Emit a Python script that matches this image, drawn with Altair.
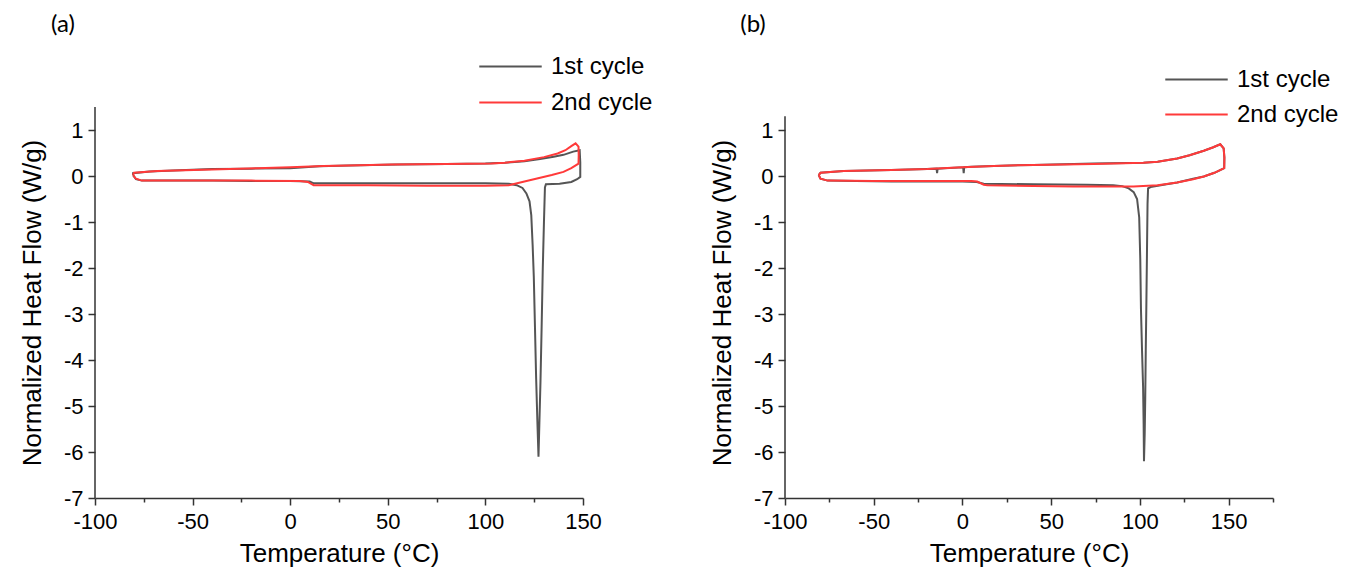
import altair as alt
import pandas as pd

# ---------------- data ----------------
series = ["1st cycle", "2nd cycle"]
series_colors = ["#555555", "#ff3a3a"]

# panel (a) 1st cycle
a1_T = [-80.5, -79, -76, -60, -40, -20, 0, 10, 12, 40, 70, 100, 112, 116, 119, 121, 122.6, 123.5,
        124.2, 124.8, 125.4, 126, 126.6, 127.2, 127.7, 128.2, 128.8, 129.4, 130, 130.5, 131, 138,
        144, 147, 148.6, 148.6, 148.3, 145, 140, 135, 128, 120, 110, 100, 80, 55, 30, 15, 0, -20,
        -40, -60, -72, -80.5, -80.5]
a1_Q = [0.02, -0.07, -0.1, -0.1, -0.1, -0.11, -0.11, -0.12, -0.16, -0.16, -0.16, -0.16, -0.17,
        -0.2, -0.26, -0.38, -0.55, -0.85, -1.5, -2.2, -3.3, -4.4, -5.3, -6.1, -5.3, -4.5, -3.3,
        -2.0, -1.0, -0.25, -0.18, -0.17, -0.13, -0.07, -0.02, 0.3, 0.56, 0.53, 0.46, 0.42, 0.37,
        0.32, 0.29, 0.27, 0.26, 0.25, 0.23, 0.21, 0.17, 0.16, 0.15, 0.12, 0.1, 0.06, 0.02]

# panel (a) 2nd cycle
a2_T = [-80.5, -79, -76, -50, -20, 5, 9, 12, 40, 70, 100, 112, 120, 127, 134, 140, 144, 147.7,
        147.8, 147.7, 146.2, 144, 141, 137, 130, 120, 110, 103, 80, 52, 30, 17, 0, -17, -40, -68,
        -80, -80.5]
a2_Q = [0.02, -0.06, -0.1, -0.1, -0.1, -0.11, -0.13, -0.2, -0.2, -0.21, -0.21, -0.2, -0.12,
        -0.05, 0.02, 0.09, 0.17, 0.27, 0.45, 0.64, 0.71, 0.65, 0.56, 0.49, 0.41, 0.33, 0.29, 0.27,
        0.26, 0.25, 0.23, 0.22, 0.19, 0.17, 0.14, 0.11, 0.07, 0.02]

# panel (b) 1st cycle
b1_T = [-81, -80, -76, -60, -40, -20, 0, 8, 12, 40, 70, 85, 90, 93.7, 96.5, 98.4, 99.6, 100.2,
        100.6, 101.2, 101.8, 102.1, 102.3, 102.7, 103, 103.3, 103.6, 104, 104.3, 104.6, 106, 115,
        121, 130, 136, 142, 147.5, 147.6, 147.2, 145.3, 141, 136, 128, 121, 110, 102, 74, 40,
        17.6, 5, 1, 0.7, 0.4, -10, -14, -14.3, -14.6, -20, -40, -67, -80, -81]
b1_Q = [0.02, -0.06, -0.1, -0.11, -0.12, -0.12, -0.12, -0.13, -0.17, -0.18, -0.19, -0.2, -0.22,
        -0.27, -0.35, -0.5, -0.9, -1.8, -2.9, -3.8, -4.6, -5.4, -6.2, -5.6, -4.85, -3.8, -2.9,
        -1.6, -0.6, -0.27, -0.24, -0.18, -0.14, -0.06, -0.01, 0.07, 0.17, 0.4, 0.6, 0.69, 0.62,
        0.55, 0.45, 0.38, 0.31, 0.29, 0.27, 0.24, 0.22, 0.2, 0.19, 0.06, 0.19, 0.17, 0.16, 0.06,
        0.16, 0.15, 0.13, 0.11, 0.07, 0.02]

# panel (b) 2nd cycle
b2_T = [-81, -80, -76, -50, -20, 5, 8.3, 12, 14, 40, 62.7, 80, 96.4, 110, 121, 130, 136, 142,
        147.5, 147.6, 147.2, 145.3, 141, 136, 128, 121, 110, 102, 74, 40, 17.6, 0, -19.9, -40,
        -66.8, -80, -81]
b2_Q = [0.02, -0.06, -0.1, -0.11, -0.11, -0.11, -0.12, -0.19, -0.2, -0.22, -0.23, -0.23, -0.23,
        -0.2, -0.14, -0.07, -0.01, 0.07, 0.17, 0.4, 0.6, 0.69, 0.62, 0.55, 0.45, 0.38, 0.31, 0.29,
        0.26, 0.24, 0.22, 0.19, 0.15, 0.13, 0.11, 0.07, 0.02]

a_x_ticks = [-100, -75, -50, -25, 0, 25, 50, 75, 100, 125, 150]
b_x_ticks = [-100, -75, -50, -25, 0, 25, 50, 75, 100, 125, 150, 175]
y_ticks = [-7, -6.5, -6, -5.5, -5, -4.5, -4, -3.5, -3, -2.5, -2, -1.5, -1, -0.5, 0, 0.5, 1, 1.5]

# extent of each panel's y axis line (bottom, top)
a_y_axis = [-7, 1.5]
b_y_axis = [-7, 1.3]

AXIS_FONT = "Liberation Sans"
AXIS_COLOR = "#333333"


def frame(T, Q, name):
    return pd.DataFrame({"T": T, "Q": Q, "cycle": name, "i": list(range(len(T)))})


def panel(d1, d2, xdom, xticks, yaxis, tag, leg_x, leg_y):
    ydom = [-7, 1.5]
    yt = [v for v in y_ticks if yaxis[0] <= v <= yaxis[1]]
    xenc = alt.X("T:Q",
                 scale=alt.Scale(domain=xdom, nice=False, zero=False),
                 axis=alt.Axis(values=xticks, title="Temperature (°C)",
                               labelExpr="datum.value % 50 === 0 && datum.value <= 150 ? '' + datum.value : ''",
                               tickSize={"condition": {"test": "datum.value % 50 !== 0", "value": 4}, "value": 7},
                               labelPadding=6, titlePadding=8))
    yenc = alt.Y("Q:Q",
                 scale=alt.Scale(domain=ydom, nice=False, zero=False),
                 axis=alt.Axis(values=yt, title="Normalized Heat Flow (W/g)", domain=False,
                               labelExpr="datum.value % 1 === 0 ? '' + datum.value : ''",
                               tickSize={"condition": {"test": "datum.value % 1 !== 0", "value": 4}, "value": 7},
                               labelPadding=5, titlePadding=18))

    def line(d, k):
        return alt.Chart(d).mark_line(strokeWidth=2, clip=False).encode(
            x=xenc, y=yenc,
            color=alt.Color("cycle:N",
                            scale=alt.Scale(domain=[series[k]], range=[series_colors[k]]),
                            legend=alt.Legend(title=None, orient="none", legendX=leg_x,
                                              legendY=leg_y[k],
                                              symbolType="stroke", symbolSize=3900,
                                              symbolStrokeWidth=2,
                                              labelFont=AXIS_FONT, labelFontSize=24,
                                              labelColor="black", labelOffset=8)),
            order="i:Q",
        )

    axis_line = alt.Chart(pd.DataFrame({"T": [xdom[0]], "lo": [yaxis[0]], "hi": [yaxis[1]]})).mark_rule(
        color=AXIS_COLOR, strokeWidth=1.5
    ).encode(x=alt.X("T:Q"), y=alt.Y("lo:Q"), y2="hi:Q")

    label = alt.Chart(pd.DataFrame({"t": [tag]})).mark_text(
        font="Lato", fontSize=24, align="center", baseline="middle", color="black"
    ).encode(text="t:N", x=alt.value(-32), y=alt.value(-82))

    return alt.layer(line(d1, 0), line(d2, 1), axis_line, label).resolve_scale(
        color="independent").properties(width=488, height=391)


A = panel(frame(a1_T, a1_Q, series[0]), frame(a2_T, a2_Q, series[1]),
          [-100, 150], a_x_ticks, a_y_axis, "(a)", 383, [-73, -37])
B = panel(frame(b1_T, b1_Q, series[0]), frame(b2_T, b2_Q, series[1]),
          [-100, 175], b_x_ticks, b_y_axis, "(b)", 379, [-60, -25])

chart = alt.hconcat(A, B, spacing=56).properties(
    padding={"left": 11, "top": 5, "right": 0, "bottom": 5}
).resolve_scale(x="independent", y="independent").configure_view(stroke=None).configure_axis(
    grid=False,
    domainColor=AXIS_COLOR, domainWidth=1.5,
    tickColor=AXIS_COLOR, tickWidth=1.5,
    labelFont=AXIS_FONT, labelFontSize=22, labelColor="black",
    titleFont=AXIS_FONT, titleFontSize=26, titleFontWeight="normal", titleColor="black",
    labelFlush=False, labelOverlap=False,
)

chart.save("out.html", embed_options={"renderer": "svg", "actions": False})
